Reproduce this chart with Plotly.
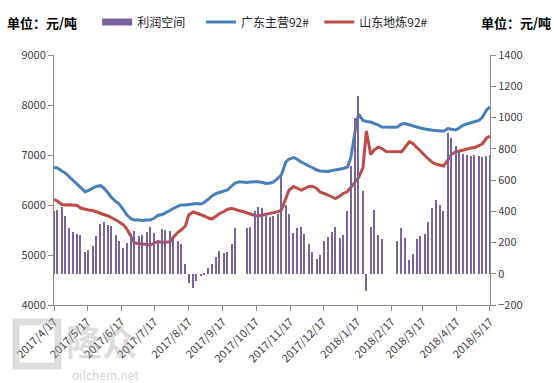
import pandas as pd
import plotly.graph_objects as go

# Observation dates: Mondays and Thursdays between the first and last tick
mondays = pd.date_range("2017-04-17", "2018-05-14", freq="W-MON")
thursdays = pd.date_range("2017-04-20", "2018-05-17", freq="W-THU")
dates = sorted(list(mondays) + list(thursdays))

# 利润空间 (right axis), None = no quote (holidays)
profit = [
    400, 410, 425, 370, 290, 265, 255, 245, 140, 150,
    180, 240, 320, 330, 315, 305, 250, 210, 165, 200,
    255, 276, 240, 250, 270, 300, 260, 215, 285, 280,
    276, 225, 210, 190, 60, -60, -90, -45, -15, -5,
    35, 65, 105, 145, 130, 140, 190, 290, None, None,
    290, 300, 400, 430, 420, 385, 365, 370, 385, 620,
    440, 380, 260, 290, 300, 255, 190, 140, 95, 120,
    210, 235, 270, 300, 230, 250, 400, 690, 1000, 1140,
    530, -110, 300, 410, 250, 220, None, None, None, 210,
    290, 230, 90, 128, 220, 240, 255, 330, 420, 470,
    440, 400, 900, 870, 815, 780, 765, 760, 755, 760,
    755, 750, 755, 760,
]

# 广东主营92# (left axis)
guangdong = [
    6750, 6740, 6680, 6640, 6560, 6500, 6420, 6340, 6266, 6290,
    6340, 6370, 6386, 6340, 6240, 6150, 6070, 6020, 5900, 5800,
    5720, 5700, 5700, 5690, 5700, 5700, 5740, 5790, 5810, 5840,
    5890, 5930, 5970, 6000, 6000, 6010, 6010, 6030, 6020, 6050,
    6120, 6180, 6230, 6250, 6266, 6300, 6380, 6440, 6466, 6460,
    6450, 6460, 6470, 6466, 6450, 6430, 6440, 6460, 6540, 6600,
    6860, 6920, 6950, 6920, 6860, 6820, 6780, 6750, 6700, 6680,
    6680, 6670, 6690, 6700, 6720, 6730, 6760, 6950, 7500, 7820,
    7690, 7670, 7660, 7640, 7600, 7560, 7555, 7560, 7555, 7560,
    7620, 7630, 7600, 7580, 7560, 7540, 7520, 7505, 7495, 7490,
    7480, 7475, 7530, 7520, 7500, 7540, 7600, 7620, 7640, 7660,
    7690, 7750, 7900, 7966,
]

# 山东地炼92# (left axis)
shandong = [
    6110, 6080, 6010, 6000, 6005, 6000, 5990, 5940, 5910, 5900,
    5890, 5870, 5840, 5810, 5780, 5750, 5700, 5660, 5600, 5520,
    5350, 5240, 5230, 5220, 5210, 5200, 5240, 5270, 5250, 5260,
    5266, 5350, 5450, 5500, 5580, 5800, 5860, 5840, 5810, 5780,
    5740, 5720, 5780, 5830, 5870, 5910, 5934, 5910, 5886, 5870,
    5840, 5810, 5790, 5780, 5800, 5820, 5834, 5840, 5866, 5900,
    6150, 6300, 6370, 6340, 6300, 6330, 6370, 6375, 6330, 6260,
    6230, 6200, 6160, 6130, 6180, 6230, 6270, 6360, 6460, 6550,
    6750, 7480, 7010, 7100, 7160, 7130, 7070, 7070, 7060, 7066,
    7066, 7150, 7266, 7230, 7150, 7080, 6990, 6930, 6850, 6820,
    6790, 6780, 6900, 7010, 7060, 7080, 7100, 7120, 7140, 7150,
    7190, 7220, 7340, 7380,
]

tick_dates = pd.date_range("2017-04-01", "2018-05-01", freq="MS") + pd.Timedelta(days=16)
tick_text = [f"{d.year}/{d.month}/{d.day}" for d in tick_dates]

FONT = "Noto Sans CJK SC"
GRAY = "#8c8c8c"
TXT = "#404040"
PURPLE = "#7A629D"
NB = "\u00a0"

fig = go.Figure()
fig.add_trace(go.Bar(
    x=dates, y=profit, name="利润空间", yaxis="y2", showlegend=False,
    legendgroup="p",
    marker=dict(color=PURPLE, line=dict(width=0)),
    width=1.2 * 86400000,
))
# legend swatch for the bars (wide flat rectangle like the reference)
fig.add_trace(go.Scatter(
    x=[None], y=[None], name="利润空间" + NB * 4, mode="lines", legendgroup="p",
    line=dict(color=PURPLE, width=7),
))
fig.add_trace(go.Scatter(
    x=dates, y=guangdong, name="广东主营92#" + NB * 2, mode="lines",
    line=dict(color="#4A7EBB", width=3),
))
fig.add_trace(go.Scatter(
    x=dates, y=shandong, name="山东地炼92#", mode="lines",
    line=dict(color="#BE4B48", width=3),
))

fig.update_layout(
    width=554, height=383,
    margin=dict(l=54, r=64, t=55, b=78, autoexpand=False),
    paper_bgcolor="white", plot_bgcolor="white",
    font=dict(family=FONT, size=11, color=TXT),
    showlegend=True,
    legend=dict(orientation="h", x=0.099, xanchor="left", y=1.132, yanchor="middle",
                font=dict(size=12, color="#262626"), traceorder="normal",
                itemwidth=30, bgcolor="rgba(0,0,0,0)"),
    bargap=0,
    xaxis=dict(
        type="date", range=["2017-04-16 22:00", "2018-05-17 02:00"],
        tickmode="array", tickvals=tick_dates, ticktext=tick_text,
        tickangle=-45, ticks="outside", ticklen=5, tickcolor=GRAY,
        showline=True, linecolor=GRAY, linewidth=1, showgrid=False,
        tickfont=dict(size=11, color=TXT),
    ),
    yaxis=dict(
        range=[4000, 9000], dtick=1000, ticks="outside", ticklen=5, tickcolor=GRAY,
        showline=True, linecolor=GRAY, linewidth=1, showgrid=False, zeroline=False,
        tickfont=dict(size=11, color=TXT),
    ),
    yaxis2=dict(
        range=[-200, 1400], dtick=200, overlaying="y", side="right",
        ticks="outside", ticklen=5, tickcolor=GRAY,
        showline=True, linecolor=GRAY, linewidth=1, showgrid=False, zeroline=False,
        tickfont=dict(size=11, color=TXT),
    ),
)

fig.add_annotation(text="<b>单位：元/吨</b>", xref="paper", yref="paper",
                   x=(5 - 54) / 436, y=1.132, xanchor="left", yanchor="middle",
                   showarrow=False, font=dict(size=13, color="#000000"))
fig.add_annotation(text="<b>单位：元/吨</b>", xref="paper", yref="paper",
                   x=(553 - 54) / 436, y=1.132, xanchor="right", yanchor="middle",
                   showarrow=False, font=dict(size=13, color="#000000"))

# watermark (logo box + text)
fig.add_shape(type="rect", xref="paper", yref="paper",
              x0=(16 - 54) / 436, x1=(58 - 54) / 436,
              y0=(305 - 366) / 250, y1=(305 - 322) / 250,
              line=dict(color="rgba(170,170,170,0.4)", width=7),
              fillcolor="rgba(0,0,0,0)", layer="above")
fig.add_annotation(text="<b>隆众</b>", xref="paper", yref="paper",
                   x=(64 - 54) / 436, y=(305 - 340) / 250, xanchor="left", yanchor="middle",
                   showarrow=False, font=dict(size=36, color="rgba(165,165,165,0.4)"))
fig.add_annotation(text="oilchem.net", xref="paper", yref="paper",
                   x=(70 - 54) / 436, y=(305 - 374) / 250, xanchor="left", yanchor="middle",
                   showarrow=False, font=dict(size=12, color="rgba(165,165,165,0.5)"))

fig.write_html("out.html", config={"displayModeBar": False},
               post_script="document.body.style.margin='0';")
